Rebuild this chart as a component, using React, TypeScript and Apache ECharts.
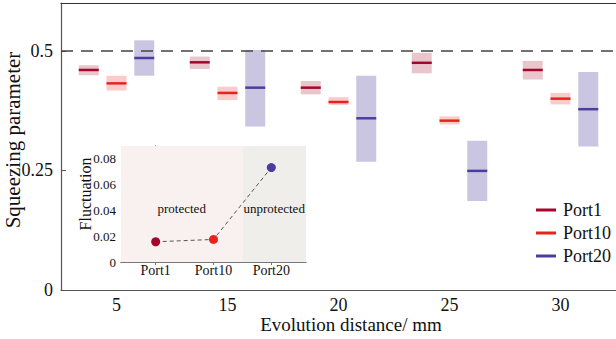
import React, { useEffect, useRef } from "react";
import * as echarts from "echarts";

const categories = ["5", "15", "20", "25", "30"];
// [categoryIndex, low, high, median]
const port1 = [
  [0, 0.449, 0.47, 0.46],
  [1, 0.462, 0.488, 0.476],
  [2, 0.409, 0.437, 0.423],
  [3, 0.453, 0.496, 0.475],
  [4, 0.44, 0.479, 0.46],
];
const port10 = [
  [0, 0.417, 0.448, 0.432],
  [1, 0.397, 0.425, 0.412],
  [2, 0.387, 0.403, 0.393],
  [3, 0.346, 0.363, 0.354],
  [4, 0.388, 0.412, 0.4],
];
const port20 = [
  [0, 0.448, 0.522, 0.485],
  [1, 0.342, 0.502, 0.423],
  [2, 0.268, 0.448, 0.359],
  [3, 0.186, 0.312, 0.249],
  [4, 0.3, 0.456, 0.378],
];
const yTicks = [0, 0.25, 0.5];
const reference = 0.5;

const insetPorts = ["Port1", "Port10", "Port20"];
const insetValues = [0.0157, 0.0175, 0.0733];
const insetTicks = [0, 0.02, 0.04, 0.06, 0.08];

const FONT = "Liberation Serif";

const styles = [
  { name: "Port1", line: "#a3082c", box: "#e9c5cc", off: -0.25 },
  { name: "Port10", line: "#e8231f", box: "#f9cbc9", off: 0 },
  { name: "Port20", line: "#4b3d9d", box: "#cac6e2", off: 0.25 },
];

function makeBoxSeries(idx: number, data: number[][]) {
  const s = styles[idx];
  return {
    type: "custom",
    name: s.name,
    xAxisIndex: 0,
    yAxisIndex: 0,
    itemStyle: { color: s.line },
    data,
    encode: { x: 0, y: [1, 2, 3] },
    renderItem: (params: any, api: any) => {
      const cat = api.value(0);
      const lo = api.coord([cat, api.value(1)]);
      const hi = api.coord([cat, api.value(2)]);
      const mid = api.coord([cat, api.value(3)]);
      const band = api.size([1, 0])[0];
      const cx = mid[0] + s.off * band;
      const w = band * 0.18;
      return {
        type: "group",
        children: [
          {
            type: "rect",
            shape: { x: cx - w / 2, y: hi[1], width: w, height: lo[1] - hi[1] },
            style: { fill: s.box },
          },
          {
            type: "line",
            shape: { x1: cx - w / 2, y1: mid[1], x2: cx + w / 2, y2: mid[1] },
            style: { stroke: s.line, lineWidth: 2.5 },
          },
        ],
      };
    },
  };
}

export default function App() {
  const ref = useRef<HTMLDivElement>(null);
  useEffect(() => {
    if (!ref.current) return;
    const chart = echarts.init(ref.current, undefined, { renderer: "svg" });
    const axisColor = "#555";
    const option: any = {
      animation: false,
      backgroundColor: "#fff",
      textStyle: { fontFamily: FONT },
      grid: [
        { left: 61, top: 3, right: -5, bottom: 49 },
        { left: 121, top: 146, width: 185, height: 116 },
      ],
      xAxis: [
        {
          type: "category",
          gridIndex: 0,
          data: categories,
          boundaryGap: true,
          axisLine: { lineStyle: { color: axisColor, width: 1.2 } },
          axisTick: { inside: true, alignWithLabel: true, length: 5, lineStyle: { color: axisColor } },
          axisLabel: { fontSize: 18, lineHeight: 16, color: "#111", fontFamily: FONT, margin: 7 },
        },
        {
          type: "category",
          gridIndex: 0,
          position: "top",
          data: categories,
          axisLine: { lineStyle: { color: "#333", width: 1.2 } },
          axisTick: { show: false },
          axisLabel: { show: false },
        },
        {
          type: "value",
          gridIndex: 1,
          min: -0.6,
          max: 2.6,
          splitLine: { show: false },
          axisLine: { lineStyle: { color: "#777" } },
          axisTick: { inside: true, length: 3, customValues: [0, 1, 2], lineStyle: { color: "#777" } },
          axisLabel: {
            customValues: [0, 1, 2],
            formatter: (v: number) => insetPorts[Math.round(v)] ?? "",
            fontSize: 14,
            color: "#111",
            fontFamily: FONT,
            margin: 1,
          },
        },
        {
          type: "value",
          gridIndex: 1,
          position: "top",
          min: -0.6,
          max: 2.6,
          splitLine: { show: false },
          axisLine: { lineStyle: { color: "#777" } },
          axisTick: { inside: true, length: 3, customValues: [0, 1, 2], lineStyle: { color: "#777" } },
          axisLabel: { show: false },
        },
      ],
      yAxis: [
        {
          type: "value",
          gridIndex: 0,
          min: 0,
          max: 0.6,
          splitLine: { show: false },
          axisLine: { show: true, lineStyle: { color: axisColor, width: 1.2 } },
          axisTick: { show: true, inside: true, length: 5, customValues: yTicks, lineStyle: { color: axisColor } },
          axisLabel: { customValues: yTicks, fontSize: 18, color: "#111", fontFamily: FONT, margin: 8 },
        },
        {
          type: "value",
          gridIndex: 1,
          min: 0,
          max: 0.09,
          splitLine: { show: false },
          axisLine: { show: true, lineStyle: { color: "#777" } },
          axisTick: { show: true, inside: true, length: 3, customValues: insetTicks, lineStyle: { color: "#777" } },
          axisLabel: {
            customValues: insetTicks,
            formatter: (v: number) => (v === 0 ? "0" : v.toFixed(2)),
            fontSize: 13,
            color: "#111",
            fontFamily: FONT,
            margin: 5,
          },
        },
        {
          type: "value",
          gridIndex: 1,
          position: "right",
          min: 0,
          max: 0.09,
          splitLine: { show: false },
          axisLine: { show: true, lineStyle: { color: "#777" } },
          axisTick: { show: true, inside: true, length: 3, customValues: insetTicks, lineStyle: { color: "#777" } },
          axisLabel: { show: false },
        },
      ],
      legend: {
        orient: "vertical",
        left: 531,
        top: 195,
        itemWidth: 20,
        itemHeight: 3,
        itemGap: 3,
        icon: "rect",
        textStyle: { fontSize: 18, fontFamily: FONT, color: "#111", lineHeight: 20, padding: [0, 0, 0, 2] },
        data: ["Port1", "Port10", "Port20"],
      },
      graphic: [
        {
          type: "text",
          x: 13,
          y: 140,
          rotation: Math.PI / 2,
          style: {
            text: "Squeezing parameter",
            fontFamily: FONT,
            fontSize: 21,
            fill: "#111",
            align: "center",
            verticalAlign: "middle",
          },
        },
        {
          type: "text",
          x: 351,
          y: 324,
          style: {
            text: "Evolution distance/ mm",
            fontFamily: FONT,
            fontSize: 19,
            fill: "#111",
            align: "center",
            verticalAlign: "middle",
          },
        },
        {
          type: "text",
          x: 85,
          y: 194,
          rotation: Math.PI / 2,
          z: 100,
          style: {
            text: "Fluctuation",
            fontFamily: FONT,
            fontSize: 16,
            fill: "#111",
            align: "center",
            verticalAlign: "middle",
          },
        },
      ],
      series: [
        makeBoxSeries(0, port1),
        makeBoxSeries(1, port10),
        {
          ...makeBoxSeries(2, port20),
          markLine: {
            silent: true,
            symbol: "none",
            label: { show: false },
            lineStyle: { color: "#444", type: [12, 8], width: 1.5 },
            data: [{ yAxis: reference }],
          },
        },
        {
          type: "line",
          xAxisIndex: 2,
          yAxisIndex: 1,
          data: insetValues.map((v, i) => ({
            value: [i, v],
            itemStyle: { color: styles[i].line },
          })),
          symbol: "circle",
          symbolSize: 9,
          lineStyle: { color: "#555", type: [4, 3], width: 1 },
          markArea: {
            silent: true,
            label: { fontSize: 13, fontFamily: FONT, color: "#111", position: "inside", offset: [0, 4] },
            data: [
              [
                { name: "protected", xAxis: -0.6, yAxis: 0, itemStyle: { color: "#f9f1f0" } },
                { xAxis: 1.5, yAxis: 0.09 },
              ],
              [
                { name: "unprotected", xAxis: 1.5, yAxis: 0, itemStyle: { color: "#efeeeb" } },
                { xAxis: 2.6, yAxis: 0.09 },
              ],
            ],
          },
          z: 10,
        },
      ],
    };
    chart.setOption(option);
    return () => chart.dispose();
  }, []);
  return (
    <div
      ref={ref}
      style={{ position: "fixed", left: 0, top: 0, width: 616, height: 339, background: "#fff" }}
    />
  );
}
